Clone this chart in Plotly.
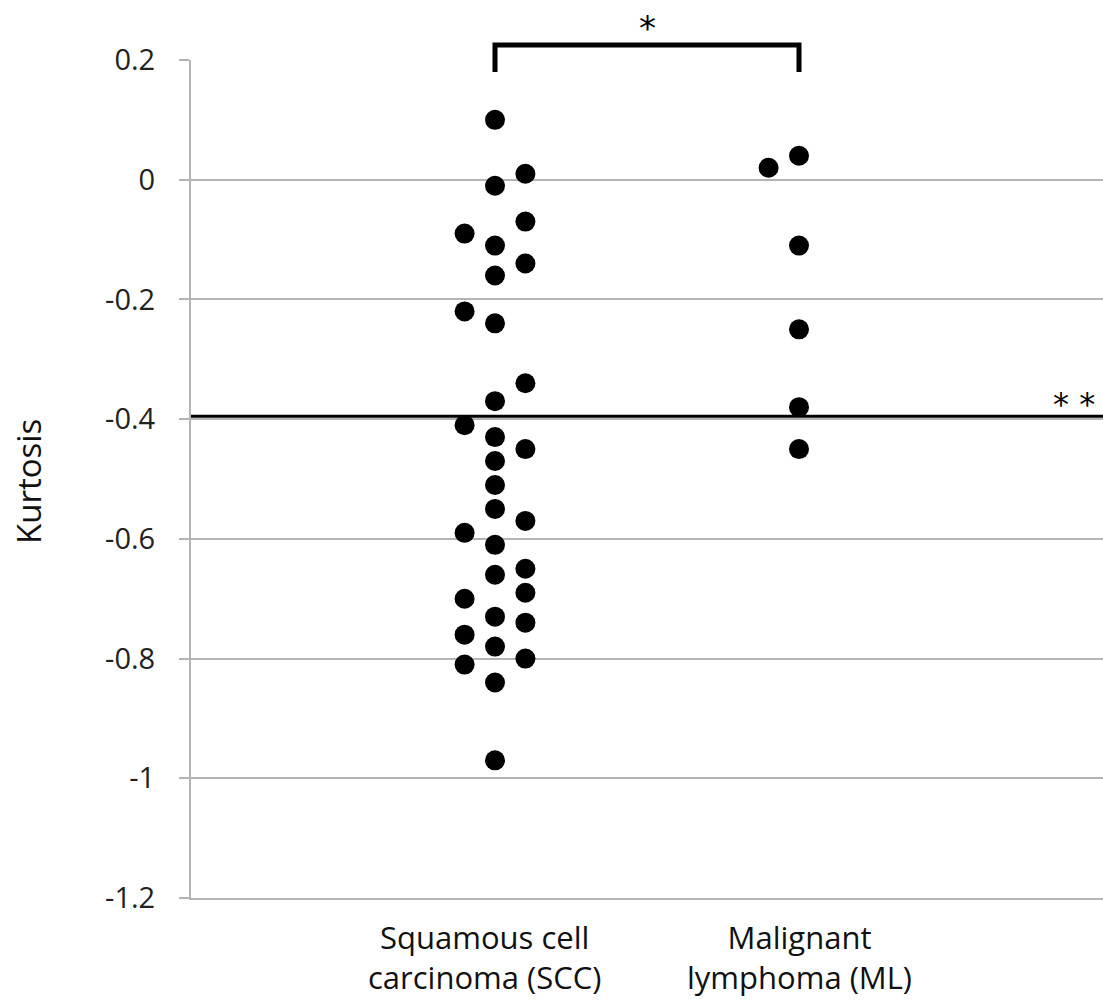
import plotly.graph_objects as go

# ---- data ----
groups = ["Squamous cell<br>carcinoma (SCC)", "Malignant<br>lymphoma (ML)"]
group_pos = [1, 2]

scc_values = [0.10, -0.01, 0.01, -0.07, -0.09, -0.11, -0.14, -0.16, -0.22, -0.24,
              -0.34, -0.37, -0.41, -0.43, -0.45, -0.47, -0.51, -0.55, -0.57, -0.59,
              -0.61, -0.65, -0.66, -0.69, -0.70, -0.73, -0.74, -0.76, -0.78, -0.80,
              -0.81, -0.84, -0.97]
scc_column = [0, 0, 1, 1, -1, 0, 1, 0, -1, 0,
              1, 0, -1, 0, 1, 0, 0, 0, 1, -1,
              0, 1, 0, 1, -1, 0, 1, -1, 0, 1,
              -1, 0, 0]

ml_values = [0.02, 0.04, -0.11, -0.25, -0.38, -0.45]
ml_column = [-1, 0, 0, 0, 0, 0]

cutoff = -0.395
y_ticks = [0.2, 0, -0.2, -0.4, -0.6, -0.8, -1, -1.2]
y_tick_text = ["0.2", "0", "-0.2", "-0.4", "-0.6", "-0.8", "-1", "-1.2"]

# ---- styling ----
JITTER = 0.1
XMIN, XMAX = 0, 3
FONT = "Open Sans"
GRID = "#b4b4b4"
PLOT_W, PLOT_H = 912, 838
LABEL_SHIFT = [-11, 0]

fig = go.Figure()
for pos, vals, cols in [(group_pos[0], scc_values, scc_column),
                        (group_pos[1], ml_values, ml_column)]:
    fig.add_trace(go.Scatter(
        x=[pos + c * JITTER for c in cols], y=vals, mode="markers",
        marker=dict(size=20, color="black"), cliponaxis=False, showlegend=False))

# category labels
for pos, label, shift in zip(group_pos, groups, LABEL_SHIFT):
    fig.add_annotation(xref="x", yref="paper", x=pos, y=0, text=label, showarrow=False,
                       xanchor="center", yanchor="top", xshift=shift, yshift=-16,
                       font=dict(family=FONT, size=31, color="#111"))

# cutoff line
fig.add_shape(type="line", xref="paper", yref="y", x0=0, x1=1, y0=cutoff, y1=cutoff,
              line=dict(color="black", width=3))
fig.add_annotation(xref="paper", yref="y", x=(1097 - 191) / PLOT_W, y=cutoff, text="* *",
                   showarrow=False, xanchor="right", yanchor="bottom", yshift=-9,
                   font=dict(family="DejaVu Sans", size=32, color="black"))

# significance bracket (paper coordinates derived from data positions)
def px(v):
    return (v - XMIN) / (XMAX - XMIN)

yt = 1 + 15 / PLOT_H
yb = 1 - 12 / PLOT_H
fig.add_shape(type="path", xref="paper", yref="paper",
              path=f"M {px(group_pos[0])},{yb} L {px(group_pos[0])},{yt} L {px(group_pos[1])},{yt} L {px(group_pos[1])},{yb}",
              line=dict(color="black", width=5))
fig.add_annotation(xref="paper", yref="paper", x=(px(group_pos[0]) + px(group_pos[1])) / 2, y=yt,
                   text="*", showarrow=False, yanchor="bottom", yshift=-5,
                   font=dict(family="DejaVu Sans", size=34, color="black"))

# y title
fig.add_annotation(xref="paper", yref="paper", x=(28 - 191) / PLOT_W, y=(898 - 482) / PLOT_H,
                   text="Kurtosis", textangle=-90, showarrow=False,
                   xanchor="center", yanchor="middle",
                   font=dict(family=FONT, size=33, color="#111"))

fig.update_layout(
    width=1103, height=1007,
    margin=dict(l=191, r=0, t=60, b=109),
    plot_bgcolor="white", paper_bgcolor="white",
    font=dict(family=FONT, size=29, color="#222"),
    xaxis=dict(range=[XMIN, XMAX], tickvals=group_pos, ticktext=["", ""], showgrid=False,
               zeroline=False, showline=True, linecolor=GRID, linewidth=2, ticks=""),
    yaxis=dict(range=[-1.2, 0.2], tickvals=y_ticks, ticktext=y_tick_text,
               showgrid=True, gridcolor=GRID, gridwidth=2, zeroline=False,
               showline=True, linecolor=GRID, linewidth=2,
               ticks="outside", ticklen=10, tickcolor=GRID, tickwidth=2,
               tickfont=dict(size=29, color="#222"), ticklabelstandoff=18),
)

fig.write_html("out.html")
